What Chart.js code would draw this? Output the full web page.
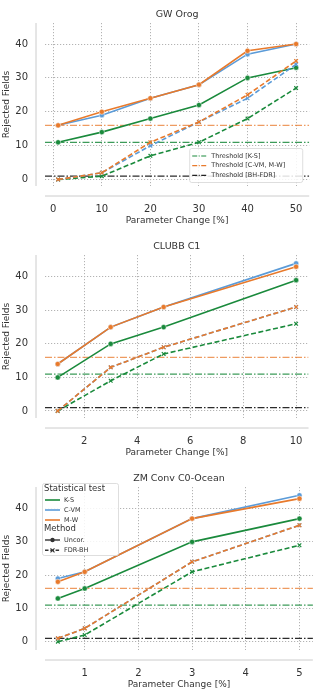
<!DOCTYPE html>
<html>
<head>
<meta charset="utf-8">
<script src="https://cdn.jsdelivr.net/npm/chart.js@4"></script>
<style>
  html, body { margin: 0; padding: 0; background: #fff; font-family: "DejaVu Sans", sans-serif; }
  .box { position: absolute; left: 0; width: 320px; height: 232px; }
</style>
</head>
<body>
<div class="box" style="top:0"><canvas id="c1"></canvas></div>
<div class="box" style="top:232px"><canvas id="c2"></canvas></div>
<div class="box" style="top:464px"><canvas id="c3"></canvas></div>
<script>
// ===== DATA =====
const gwX = [1, 10, 20, 30, 40, 50];
const gwKsUncor = [11, 14, 18, 22, 30, 33];
const gwCvmUncor = [16, 19, 24, 28, 37, 40];
const gwMwUncor = [16, 20, 24, 28, 38, 40];
const gwKsFdr = [0, 1, 7, 11, 18, 27];
const gwCvmFdr = [0, 2, 10, 17, 24, 34];
const gwMwFdr = [0, 2, 11, 17, 25, 35];

const clubbX = [1, 3, 5, 10];
const clubbKsUncor = [10, 20, 25, 39];
const clubbCvmUncor = [14, 25, 31, 44];
const clubbMwUncor = [14, 25, 31, 43];
const clubbKsFdr = [0, 9, 17, 26];
const clubbCvmFdr = [0, 13, 19, 31];
const clubbMwFdr = [0, 13, 19, 31];

const zmX = [0.5, 1, 3, 5];
const zmKsUncor = [13, 16, 30, 37];
const zmCvmUncor = [19, 21, 37, 44];
const zmMwUncor = [18, 21, 37, 43];
const zmKsFdr = [0, 2, 21, 29];
const zmCvmFdr = [1, 4, 24, 35];
const zmMwFdr = [1, 4, 24, 35];

// thresholds: K-S, C-VM/M-W, BH-FDR
const thresholds = [11, 16, 1];

const tests = ['K-S', 'C-VM', 'M-W'];
const methods = ['Uncor.', 'FDR-BH'];

const GREEN = '#1a8a3c';
const BLUE = '#5b9bd8';
const ORANGE = '#e87a2c';
const TXT = '#333333';
const FONT = '"DejaVu Sans", sans-serif';

Chart.defaults.font.family = FONT;

function pts(xs, ys){
  return xs.map((x, i) => ({x: x, y: ys[i]}));
}

function seriesSet(xs, ks, cvm, mw, ksF, cvmF, mwF){
  const cols = [GREEN, BLUE, ORANGE];
  const unc = [ks, cvm, mw];
  const fdr = [ksF, cvmF, mwF];
  const out = [];
  for (let i = 0; i < 3; i++) {
    out.push({
      label: tests[i] + ' ' + methods[0],
      data: pts(xs, unc[i]),
      borderColor: cols[i],
      borderWidth: 1.6,
      pointStyle: 'circle',
      pointRadius: 2.6,
      pointBackgroundColor: cols[i],
      pointBorderColor: '#fff',
      pointBorderWidth: 0.5,
      order: 3 - i
    });
    out.push({
      label: tests[i] + ' ' + methods[1],
      data: pts(xs, fdr[i]),
      borderColor: cols[i],
      borderWidth: 1.6,
      borderDash: [5, 2.5],
      pointStyle: 'crossRot',
      pointRadius: 2.6,
      pointBorderColor: cols[i],
      pointBorderWidth: 1.2,
      order: 3 - i
    });
  }
  return out;
}

function thresholdSets(xMin, xMax){
  const cols = ['rgba(26,138,60,0.85)', 'rgba(232,122,44,0.75)', 'rgba(20,20,20,0.9)'];
  return thresholds.map((t, i) => ({
    label: 'thr' + i,
    data: [{x: xMin, y: t}, {x: xMax, y: t}],
    borderColor: cols[i],
    borderWidth: 1.3,
    borderDash: [7, 2, 1.5, 2],
    pointRadius: 0,
    order: 10
  }));
}

// offset spines like seaborn despine
const spines = {
  id: 'spines',
  beforeDatasetsDraw(chart){
    const a = chart.chartArea, c = chart.ctx;
    c.save();
    c.strokeStyle = '#cccccc';
    c.lineWidth = 1;
    c.beginPath();
    c.moveTo(a.left - 9, a.top);
    c.lineTo(a.left - 9, a.bottom);
    c.moveTo(a.left, a.bottom + 10);
    c.lineTo(a.right, a.bottom + 10);
    c.stroke();
    c.restore();
  }
};

// custom legends
const legendBox = {
  id: 'legendBox',
  afterDraw(chart, args, opts){
    if (!opts.kind) return;
    const a = chart.chartArea, c = chart.ctx;
    c.save();
    c.textBaseline = 'middle';
    if (opts.kind === 'thr') {
      const w = 113, h = 34;
      const x0 = a.right - 7 - w, y0 = a.bottom - 4 - h;
      c.fillStyle = 'rgba(255,255,255,0.85)';
      c.strokeStyle = '#d6d6d6';
      c.lineWidth = 0.8;
      c.beginPath();
      c.roundRect(x0 + 0.5, y0 + 0.5, w, h, 2);
      c.fill(); c.stroke();
      const labels = ['Threshold [K-S]', 'Threshold [C-VM, M-W]', 'Threshold [BH-FDR]'];
      const cols = [GREEN, ORANGE, '#222'];
      labels.forEach((l, i) => {
        const y = y0 + 8 + i * 9.7;
        c.strokeStyle = cols[i];
        c.lineWidth = 1.2;
        c.setLineDash([5, 1.5, 1, 1.5]);
        c.beginPath(); c.moveTo(x0 + 3, y); c.lineTo(x0 + 18, y); c.stroke();
        c.setLineDash([]);
        c.fillStyle = TXT;
        c.font = '6.5px ' + FONT;
        c.fillText(l, x0 + 22, y);
      });
    } else {
      const x0 = a.left - 3, y0 = a.top - 4, w = 76, h = 72;
      c.fillStyle = 'rgba(255,255,255,0.85)';
      c.strokeStyle = '#d6d6d6';
      c.lineWidth = 0.8;
      c.beginPath();
      c.roundRect(x0 + 0.5, y0 + 0.5, w, h, 2);
      c.fill(); c.stroke();
      c.fillStyle = TXT;
      c.font = '8.5px ' + FONT;
      c.fillText('Statistical test', x0 + 2, y0 + 6);
      c.fillText('Method', x0 + 2, y0 + 46);
      const cols = [GREEN, BLUE, ORANGE];
      tests.forEach((t, i) => {
        const y = y0 + 17 + i * 10;
        c.strokeStyle = cols[i];
        c.lineWidth = 1.6;
        c.beginPath(); c.moveTo(x0 + 3, y); c.lineTo(x0 + 18, y); c.stroke();
        c.fillStyle = TXT;
        c.font = '6.5px ' + FONT;
        c.fillText(t, x0 + 22, y);
      });
      methods.forEach((m, i) => {
        const y = y0 + 57 + i * 10.3;
        c.strokeStyle = '#333';
        c.lineWidth = 1.4;
        if (i === 1) c.setLineDash([3.5, 1.8]);
        c.beginPath(); c.moveTo(x0 + 3, y); c.lineTo(x0 + 18, y); c.stroke();
        c.setLineDash([]);
        if (i === 0) {
          c.fillStyle = '#333';
          c.beginPath(); c.arc(x0 + 10.5, y, 2.2, 0, Math.PI * 2); c.fill();
        } else {
          c.lineWidth = 1.1;
          c.beginPath();
          c.moveTo(x0 + 8.5, y - 2); c.lineTo(x0 + 12.5, y + 2);
          c.moveTo(x0 + 12.5, y - 2); c.lineTo(x0 + 8.5, y + 2);
          c.stroke();
        }
        c.fillStyle = TXT;
        c.font = '6.5px ' + FONT;
        c.fillText(m, x0 + 22, y);
      });
    }
    c.restore();
  }
};

function makeChart(id, title, datasets, xMin, xMax, xStep, yMin, yMax, legendKind){
  const gridCfg = {
    color: '#b3b3b3',
    lineWidth: 1,
    drawTicks: false,
    borderDash: [1.2, 1.8]
  };
  return new Chart(document.getElementById(id), {
    type: 'line',
    data: { datasets: datasets.concat(thresholdSets(xMin, xMax)) },
    plugins: [spines, legendBox],
    options: {
      responsive: true,
      maintainAspectRatio: false,
      animation: false,
      layout: { padding: { left: 0, right: 3, top: 0, bottom: 0 } },
      plugins: {
        legend: { display: false },
        tooltip: { enabled: false },
        title: {
          display: true,
          fullSize: false,   // centre over the plot area, like matplotlib
          text: title,
          color: TXT,
          font: { family: FONT, size: 9.5, weight: 'normal' },
          padding: { top: 2, bottom: 2.6 }
        },
        legendBox: { kind: legendKind }
      },
      scales: {
        x: {
          type: 'linear',
          min: xMin,
          max: xMax,
          afterFit: s => { s.height = 46; },
          ticks: {
            stepSize: xStep,
            includeBounds: false,
            padding: 17,
            color: TXT,
            maxRotation: 0,
            font: { family: FONT, size: 10 }
          },
          grid: gridCfg,
          border: { display: false, dash: [1.2, 1.8] },
          title: {
            display: true,
            text: 'Parameter Change [%]',
            color: TXT,
            font: { family: FONT, size: 9 },
            padding: { top: 0, bottom: 5.6 }
          }
        },
        y: {
          min: yMin,
          max: yMax,
          afterFit: s => { s.width = 45; },
          ticks: {
            stepSize: 10,
            includeBounds: false,
            padding: 17,
            color: TXT,
            font: { family: FONT, size: 10 }
          },
          grid: gridCfg,
          border: { display: false, dash: [1.2, 1.8] },
          title: {
            display: true,
            text: 'Rejected Fields',
            color: TXT,
            font: { family: FONT, size: 9 },
            padding: { top: 1.5, bottom: 1.5 }
          }
        }
      }
    }
  });
}

makeChart('c1', 'GW Orog',
  seriesSet(gwX, gwKsUncor, gwCvmUncor, gwMwUncor, gwKsFdr, gwCvmFdr, gwMwFdr),
  -1.7, 52.7, 10, -1.9, 46.2, 'thr');

makeChart('c2', 'CLUBB C1',
  seriesSet(clubbX, clubbKsUncor, clubbCvmUncor, clubbMwUncor, clubbKsFdr, clubbCvmFdr, clubbMwFdr),
  0.52, 10.47, 2, -2.1, 46.5, null);

makeChart('c3', 'ZM Conv C0-Ocean',
  seriesSet(zmX, zmKsUncor, zmCvmUncor, zmMwUncor, zmKsFdr, zmCvmFdr, zmMwFdr),
  0.26, 5.25, 1, -2.5, 46.5, 'tests');
</script>
</body>
</html>
